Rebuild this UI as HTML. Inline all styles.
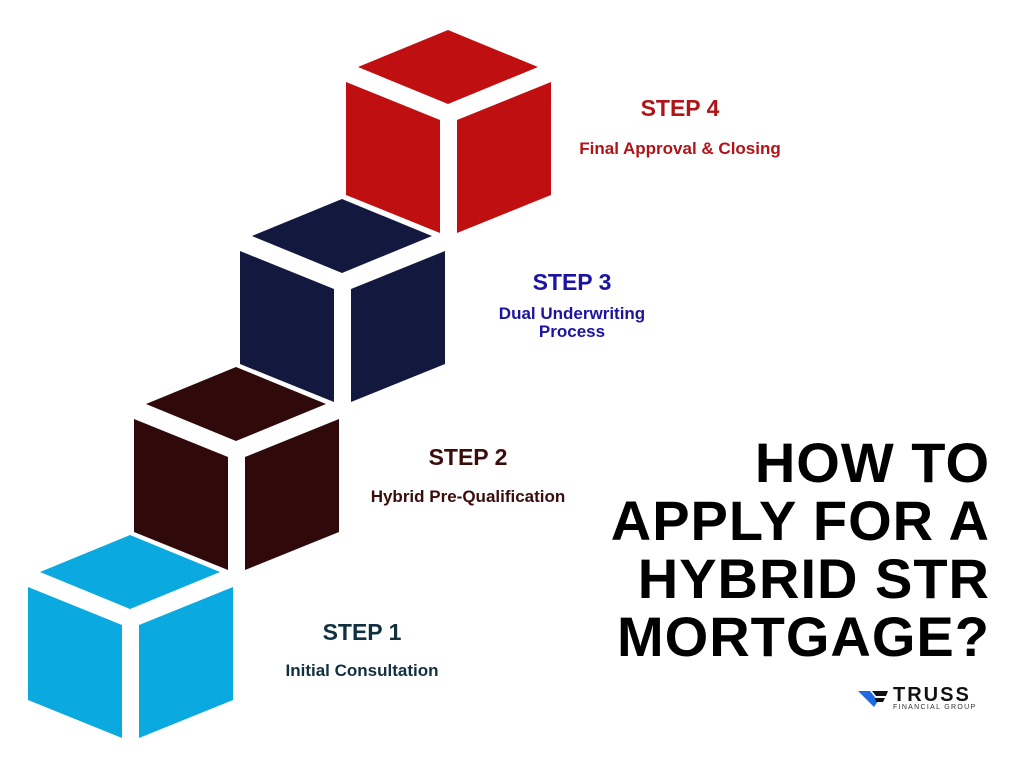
<!DOCTYPE html>
<html><head><style>
body{margin:0;width:1024px;height:768px;background:#fff;overflow:hidden;position:relative;font-family:"Liberation Sans",sans-serif}
.t{position:absolute;font-weight:bold;text-align:center}
</style></head><body>
<svg width="1024" height="768" style="position:absolute;left:0;top:0">
<defs>
<g id="cube">
<polygon points="0,0 90,37 0,74 -90,37"/>
<polygon points="-102,52 -8,90 -8,203 -102,165"/>
<polygon points="9,90 103,52 103,165 9,203"/>
</g>
</defs>
<use href="#cube" x="448" y="30" fill="#c00f10"/>
<use href="#cube" x="342" y="199" fill="#13183f"/>
<use href="#cube" x="236" y="367" fill="#300a0a"/>
<use href="#cube" x="130" y="535" fill="#0aa9df"/>
</svg>
<div class="t" style="left:580px;top:95px;width:200px;font-size:23px;color:#b01418">STEP 4</div>
<div class="t" style="left:530px;top:139px;width:300px;font-size:17px;color:#b01418">Final Approval &amp; Closing</div>
<div class="t" style="left:482px;top:269px;width:180px;font-size:23px;color:#1c13a0">STEP 3</div>
<div class="t" style="left:464px;top:305px;width:216px;font-size:17px;line-height:18px;color:#1c13a0">Dual Underwriting<br>Process</div>
<div class="t" style="left:368px;top:444px;width:200px;font-size:23px;color:#3a0c0c">STEP 2</div>
<div class="t" style="left:328px;top:487px;width:280px;font-size:17px;color:#3a0c0c">Hybrid Pre-Qualification</div>
<div class="t" style="left:262px;top:619px;width:200px;font-size:23px;color:#103040">STEP 1</div>
<div class="t" style="left:242px;top:661px;width:240px;font-size:17px;color:#103040">Initial Consultation</div>
<div class="t" style="right:34px;top:434px;text-align:right;font-size:56px;line-height:58px;color:#000;letter-spacing:1px">HOW TO<br>APPLY FOR A<br>HYBRID STR<br>MORTGAGE?</div>
<svg width="40" height="20" style="position:absolute;left:858px;top:689px">
<polygon points="0,2 12,2 20,12 16,18" fill="#1f6ae0"/>
<polygon points="14,2 30,2 28,7 18,7" fill="#111"/>
<polygon points="17,9 27,9 25,13 18,13" fill="#111"/>
</svg>
<div style="position:absolute;left:893px;top:684px;font-size:20px;font-weight:bold;letter-spacing:2px;color:#111">TRUSS</div>
<div style="position:absolute;left:893px;top:704px;font-size:7px;letter-spacing:1.3px;color:#333">FINANCIAL GROUP</div>
</body></html>
